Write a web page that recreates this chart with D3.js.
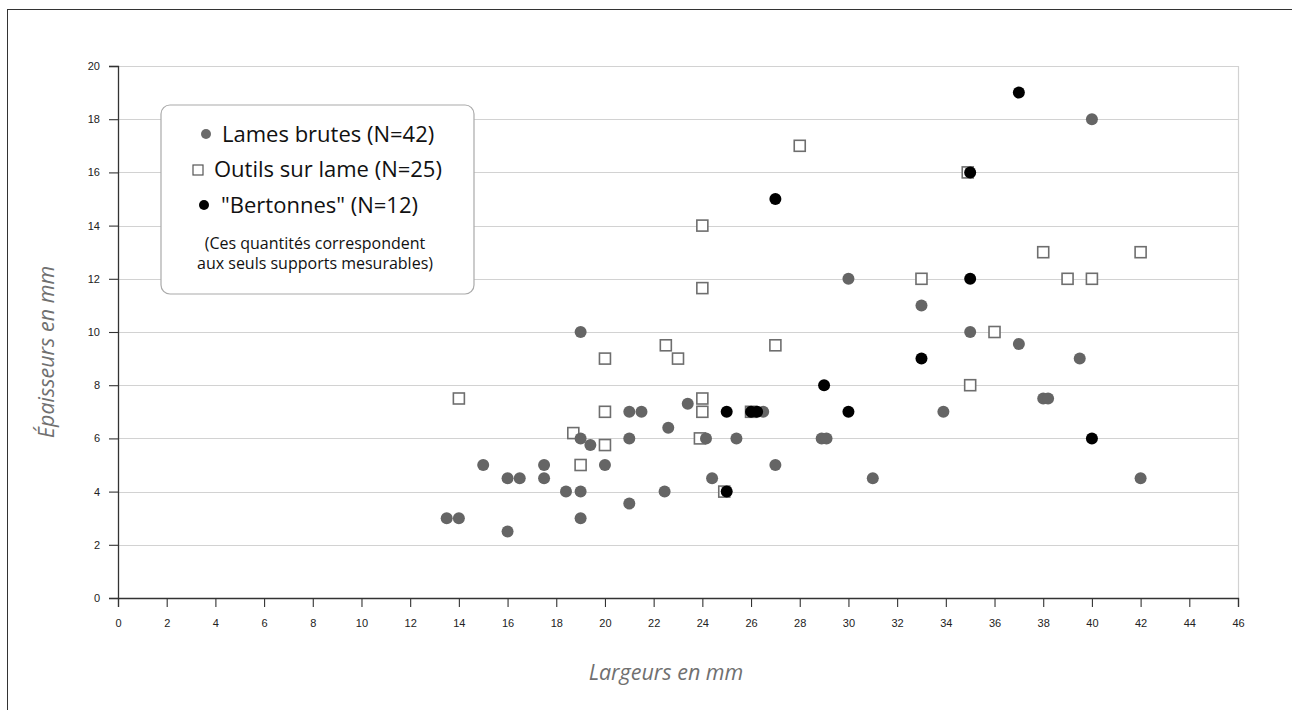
<!DOCTYPE html>
<html>
<head>
<meta charset="utf-8">
<script src="https://cdn.jsdelivr.net/npm/d3@7"></script>
<style>
  html, body { margin: 0; padding: 0; background: #fff; }
  svg { display: block; }
</style>
</head>
<body>
<svg id="chart" width="1292" height="710"></svg>
<script>
// ---- Data (largeur mm, épaisseur mm) ----
const lamesBrutes = [
  [13.5,3],[14,3],[15,5],[16,4.5],[16,2.5],[16.5,4.5],[17.5,5],[17.5,4.5],
  [18.4,4],[19,4],[19,3],[19,10],[19,6],[19.4,5.75],[20,5],[21,7],[21.5,7],
  [21,6],[21,3.55],[22.6,6.4],[22.45,4],[23.4,7.3],[24.15,6],[24.4,4.5],
  [25.4,6],[26.5,7],[27,5],[28.9,6],[29.1,6],[30,12],[31,4.5],[33,11],
  [33.9,7],[35,10],[37,9.55],[38,7.5],[38.2,7.5],[39.5,9],[40,18],[42,4.5]
];
const outilsSurLame = [
  [14,7.5],[18.7,6.2],[19,5],[20,9],[20,7],[20,5.75],[22.5,9.5],[23,9],
  [23.9,6],[24,7.5],[24,7],[24,14],[24,11.65],[24.9,4],[26,7],[27,9.5],
  [28,17],[33,12],[34.9,16],[35,8],[36,10],[38,13],[39,12],[40,12],[42,13]
];
const bertonnes = [
  [25,4],[25,7],[26,7],[26.25,7],[27,15],[29,8],[30,7],[33,9],
  [35,16],[35,12],[37,19],[40,6]
];
const xTickValues = [0,2,4,6,8,10,12,14,16,18,20,22,24,26,28,30,32,34,36,38,40,42,44,46];
const yTickValues = [0,2,4,6,8,10,12,14,16,18,20];
const legendLabels = ["Lames brutes (N=42)", "Outils sur lame (N=25)", "\"Bertonnes\" (N=12)"];
const legendNote = ["(Ces quantités correspondent", "aux seuls supports mesurables)"];
const xTitle = "Largeurs en mm";
const yTitle = "Épaisseurs en mm";

// ---- Layout ----
const svg = d3.select("#chart");
const x = d3.scaleLinear().domain([0, 46]).range([118, 1238]);
const y = d3.scaleLinear().domain([0, 20]).range([598, 66]);

// outer frame
svg.append("rect").attr("x", 7.5).attr("y", 9.5).attr("width", 1300).attr("height", 720)
  .attr("fill", "none").attr("stroke", "#333").attr("stroke-width", 1);

// gridlines
svg.append("g").selectAll("line").data(yTickValues.filter(d => d > 0)).join("line")
  .attr("x1", x(0)).attr("x2", x(46))
  .attr("y1", d => Math.round(y(d)) + 0.5).attr("y2", d => Math.round(y(d)) + 0.5)
  .attr("stroke", "#d2d2d2").attr("stroke-width", 1.2);
// right border of plot
svg.append("line").attr("x1", x(46) + 0.5).attr("x2", x(46) + 0.5)
  .attr("y1", y(20)).attr("y2", y(0))
  .attr("stroke", "#d2d2d2").attr("stroke-width", 1.2);

// axes
const xAxis = d3.axisBottom(x).tickValues(xTickValues).tickSize(9).tickPadding(12);
const gx = svg.append("g").attr("transform", `translate(0,${y(0)})`).call(xAxis);
const yAxis = d3.axisLeft(y).tickValues(yTickValues).tickSize(9).tickPadding(9);
const gy = svg.append("g").attr("transform", `translate(${x(0)},0)`).call(yAxis);
[gx, gy].forEach(g => {
  g.select(".domain").attr("stroke", "#333").attr("stroke-width", 1.3);
  g.selectAll(".tick line").attr("stroke", "#333").attr("stroke-width", 1.1);
  g.selectAll(".tick text").attr("fill", "#222")
    .style("font-family", "Liberation Sans, Arial, sans-serif").style("font-size", "11px");
});

// axis titles
svg.append("text").attr("x", 666).attr("y", 680).attr("text-anchor", "middle")
  .style("font-family", "Open Sans, sans-serif").style("font-style", "italic")
  .style("font-size", "21.5px").attr("fill", "#707070").text(xTitle);
svg.append("text").attr("transform", "translate(54,352) rotate(-90)").attr("text-anchor", "middle")
  .style("font-family", "Open Sans, sans-serif").style("font-style", "italic")
  .style("font-size", "21.5px").attr("fill", "#707070").text(yTitle);

// points
const sq = 11;
svg.append("g").selectAll("rect").data(outilsSurLame).join("rect")
  .attr("x", d => x(d[0]) - sq / 2).attr("y", d => y(d[1]) - sq / 2)
  .attr("width", sq).attr("height", sq)
  .attr("fill", "#fff").attr("stroke", "#6e6e6e").attr("stroke-width", 1.6);
svg.append("g").selectAll("circle").data(lamesBrutes).join("circle")
  .attr("cx", d => x(d[0])).attr("cy", d => y(d[1])).attr("r", 6)
  .attr("fill", "#656565");
svg.append("g").selectAll("circle").data(bertonnes).join("circle")
  .attr("cx", d => x(d[0])).attr("cy", d => y(d[1])).attr("r", 6)
  .attr("fill", "#000");

// legend
const lg = svg.append("g");
lg.append("rect").attr("x", 161).attr("y", 105).attr("width", 313).attr("height", 189)
  .attr("rx", 9).attr("fill", "#fff").attr("stroke", "#aaa").attr("stroke-width", 1.2);
const legendFont = "Open Sans, sans-serif";
lg.append("circle").attr("cx", 206).attr("cy", 134).attr("r", 5).attr("fill", "#6a6a6a");
lg.append("rect").attr("x", 193).attr("y", 165).attr("width", 10).attr("height", 10)
  .attr("fill", "#fff").attr("stroke", "#555").attr("stroke-width", 1.2);
lg.append("circle").attr("cx", 204).attr("cy", 205).attr("r", 5).attr("fill", "#000");
const lx = [222, 214, 221];
const ly = [142, 177, 213];
legendLabels.forEach((t, i) => {
  lg.append("text").attr("x", lx[i]).attr("y", ly[i])
    .style("font-family", legendFont).style("font-size", "22px").attr("fill", "#111").text(t);
});
legendNote.forEach((t, i) => {
  lg.append("text").attr("x", 315).attr("y", 249 + i * 20).attr("text-anchor", "middle")
    .style("font-family", legendFont).style("font-size", "16px").attr("fill", "#111").text(t);
});
</script>
</body>
</html>
